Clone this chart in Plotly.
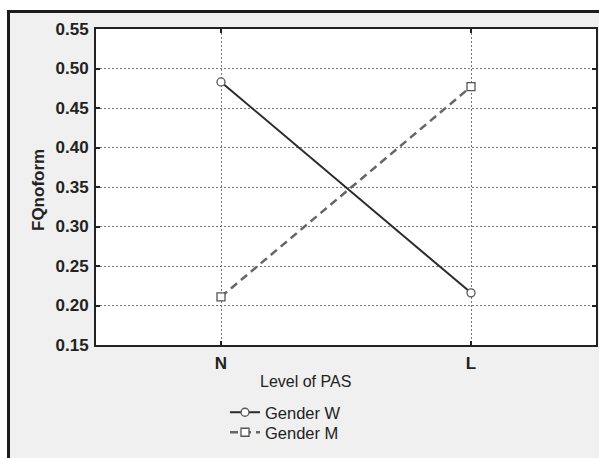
import plotly.graph_objects as go

levels = ["N", "L"]
gender_w = [0.483, 0.216]
gender_m = [0.211, 0.477]
y_ticks = [0.15, 0.20, 0.25, 0.30, 0.35, 0.40, 0.45, 0.50, 0.55]

W, H = 599, 458
ML, MR, MT, MB = 96, 3, 29, 113
PW, PH = W - ML - MR, H - MT - MB

def px_x(px):
    return (px - ML) / PW

def px_y(py):
    return (H - MB - py) / PH

FONT = "Liberation Sans, Arial, sans-serif"

fig = go.Figure()
fig.add_trace(go.Scatter(
    x=levels, y=gender_w, name="Gender W", mode="lines+markers",
    line=dict(color="#2b2b2b", width=2),
    marker=dict(symbol="circle", size=8, color="white", line=dict(color="#555", width=1.3)),
    legend="legend",
))
fig.add_trace(go.Scatter(
    x=levels, y=gender_m, name="Gender M", mode="lines+markers",
    line=dict(color="#666", width=2.5, dash="8px,5px"),
    marker=dict(symbol="square", size=8, color="white", line=dict(color="#555", width=1.3)),
    legend="legend2",
))

shapes = [
    # white outside strips
    dict(type="rect", xref="paper", yref="paper", x0=px_x(-5), x1=px_x(605), y0=px_y(10), y1=px_y(-5),
         fillcolor="white", line=dict(width=0), layer="above"),
    dict(type="rect", xref="paper", yref="paper", x0=px_x(-5), x1=px_x(7), y0=px_y(465), y1=px_y(-5),
         fillcolor="white", line=dict(width=0), layer="above"),
    # black border lines
    dict(type="rect", xref="paper", yref="paper", x0=px_x(7), x1=px_x(605), y0=px_y(13), y1=px_y(10),
         fillcolor="#1c1c1c", line=dict(width=0), layer="above"),
    dict(type="rect", xref="paper", yref="paper", x0=px_x(7), x1=px_x(10), y0=px_y(465), y1=px_y(10),
         fillcolor="#1c1c1c", line=dict(width=0), layer="above"),
]

annotations = [
    dict(text="<b>FQnoform</b>", xref="paper", yref="paper", x=px_x(38), y=px_y(190),
         textangle=-90, showarrow=False, xanchor="center", yanchor="middle",
         font=dict(family=FONT, size=17, color="#222")),
    dict(text="Level of PAS", xref="paper", yref="paper", x=px_x(305), y=px_y(381),
         showarrow=False, xanchor="center", yanchor="middle",
         font=dict(family=FONT, size=16, color="#222")),
]

axis_common = dict(
    showline=True, mirror="ticks", linecolor="#222", linewidth=2,
    showgrid=True, gridcolor="#777", gridwidth=1, griddash="2px,2px",
    ticks="inside", ticklen=4, tickcolor="#222", tickwidth=1.5,
    zeroline=False,
    tickfont=dict(family=FONT, size=17, color="#222", weight="bold"),
)

fig.update_layout(
    width=W, height=H,
    margin=dict(l=ML, r=MR, t=MT, b=MB, pad=0, autoexpand=False),
    paper_bgcolor="#f0f0f0", plot_bgcolor="white",
    xaxis=dict(type="category", categoryorder="array", categoryarray=levels,
               range=[-0.5, 1.5], ticklabelstandoff=2, **axis_common),
    yaxis=dict(range=[0.15, 0.55], tickvals=y_ticks, tickformat=".2f",
               ticklabelstandoff=2, **axis_common),
    shapes=shapes,
    annotations=annotations,
    legend=dict(x=px_x(225), y=px_y(395), xanchor="left", yanchor="top",
                bgcolor="rgba(0,0,0,0)", borderwidth=0,
                font=dict(family=FONT, size=16.5, color="#222")),
    legend2=dict(x=px_x(225), y=px_y(415), xanchor="left", yanchor="top",
                 bgcolor="rgba(0,0,0,0)", borderwidth=0,
                 font=dict(family=FONT, size=16.5, color="#222")),
    showlegend=True,
)

fig.write_html(
    "out.html",
    config={"displayModeBar": False},
    post_script="document.body.style.margin='0px';document.body.style.overflow='hidden';",
)
